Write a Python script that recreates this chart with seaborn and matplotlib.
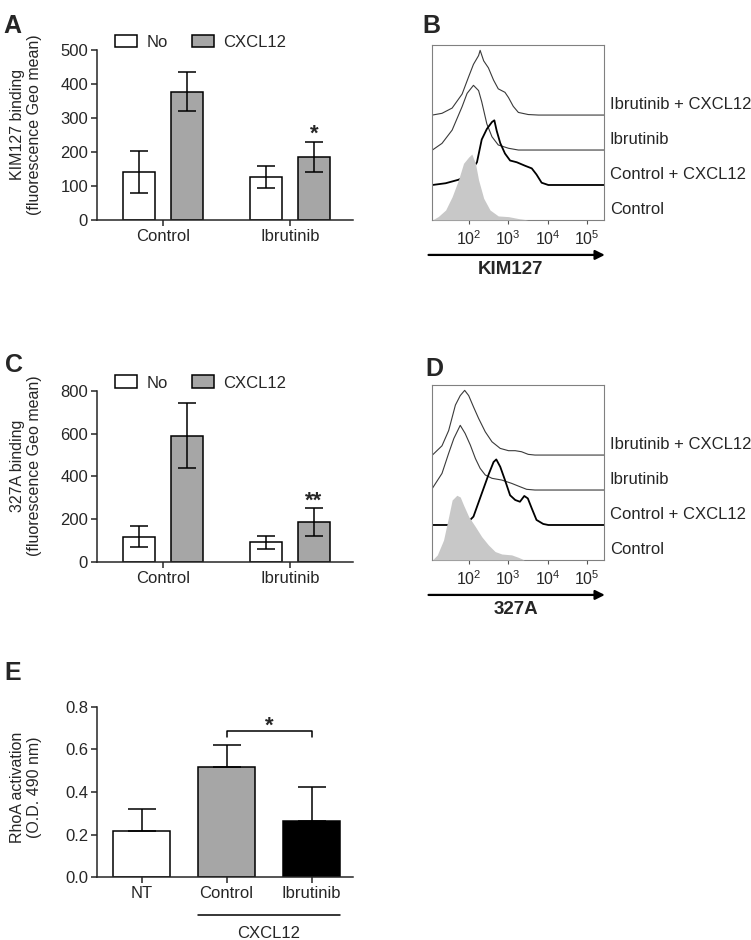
import numpy as np
import pandas as pd
import seaborn as sns
from matplotlib import pyplot as plt
from matplotlib.ticker import LogLocator, NullFormatter, FixedLocator, FixedFormatter

sns.set_style('ticks')
plt.rcParams['font.family'] = ['Liberation Sans', 'DejaVu Sans']
plt.rcParams['mathtext.default'] = 'regular'

# bar panels (mean +/- sem)
groups = ['Control', 'Ibrutinib']
treatments = ['No', 'CXCL12']
kim_no = [140, 127]
kim_no_sem = [62, 32]
kim_cx = [377, 185]
kim_cx_sem = [57, 45]
a327_no = [118, 92]
a327_no_sem = [49, 29]
a327_cx = [590, 186]
a327_cx_sem = [151, 66]

rho_groups = ['NT', 'Control', 'Ibrutinib']
rho_mean = [0.219, 0.518, 0.264]
rho_sem = [0.100, 0.102, 0.160]

# flow histograms (fluorescence, % of max), staggered
hist_names = ['Ibrutinib + CXCL12', 'Ibrutinib', 'Control + CXCL12', 'Control']
hist_offsets = [60, 40, 20, 0]

b_ibrcx_x = [12, 21, 38, 68, 100, 132, 178, 195, 240, 316, 427, 562, 832, 1023, 1349, 1820, 3236, 5888, 270000]
b_ibrcx_y = [0, 1, 4, 12, 22, 29, 34, 37, 31, 27, 20, 15, 13, 10, 5, 1.5, 0.3, 0, 0]
b_ibr_x = [12, 21, 38, 68, 91, 132, 178, 214, 288, 389, 562, 1023, 1820, 270000]
b_ibr_y = [0, 3.8, 11.4, 24.8, 32.4, 37, 34, 27.6, 15, 7.6, 2.9, 1, 0, 0]
b_ctlcx_x = [12, 26, 55, 100, 162, 214, 288, 389, 447, 513, 631, 832, 1122, 1660, 2692, 3981, 5248, 7079, 10471, 270000]
b_ctlcx_y = [0, 1, 3, 6, 13, 26, 32, 36, 37, 31, 24, 18, 14, 13, 11, 9.5, 6, 1.3, 0, 0]
b_ctl_x = [12, 17, 26, 38, 55, 74, 100, 120, 148, 178, 240, 347, 562, 1023, 1820, 3236]
b_ctl_y = [0, 2, 5.7, 13.3, 22.9, 32.4, 36, 37.7, 32.4, 22.9, 12.4, 5.7, 2.3, 1.9, 0.8, 0]

d_ibrcx_x = [12, 21, 31, 46, 61, 79, 100, 132, 178, 263, 389, 631, 1023, 1514, 2188, 3236, 4786, 270000]
d_ibrcx_y = [0, 5.3, 14, 28.6, 34, 37, 34, 27.6, 21, 13.3, 7.6, 3.8, 2.5, 2.5, 1.9, 0.4, 0, 0]
d_ibr_x = [12, 21, 31, 42, 61, 81, 110, 148, 195, 263, 389, 692, 1230, 1995, 2951, 4786, 270000]
d_ibr_y = [1, 9.5, 21, 29.5, 37, 32.4, 25.7, 18, 12.4, 8.6, 6.7, 5.7, 3.8, 1.9, 0.4, 0, 0]
d_ctlcx_x = [12, 81, 132, 214, 316, 427, 501, 631, 832, 1122, 1514, 1995, 2570, 3162, 3981, 5248, 7762, 10471, 270000]
d_ctlcx_y = [0, 0, 4.8, 18, 28.6, 36, 37.5, 33.3, 25.7, 17, 14.3, 13.3, 16.6, 15.2, 9.5, 2.9, 0.6, 0, 0]
d_ctl_x = [12, 16, 23, 31, 38, 50, 61, 74, 100, 148, 214, 316, 468, 692, 1230, 1820, 2570]
d_ctl_y = [0, 2.9, 11.4, 24.8, 34.3, 37, 36, 31.4, 24.8, 19, 13.3, 8.6, 4.8, 3.4, 2.9, 1.5, 0]

GRAY = '#a6a6a6'
LW = 1.1
TICK_FS = 12

fig = plt.figure(figsize=(7.51, 9.40), dpi=100)


def binding_panel(ax, no, no_sem, cx, cx_sem, ymax, step, ylabel, star):
    df = pd.DataFrame({'group': groups * 2,
                       'treat': [treatments[0]] * 2 + [treatments[1]] * 2,
                       'val': no + cx})
    sns.barplot(data=df, x='group', y='val', hue='treat',
                palette={'No': 'white', 'CXCL12': GRAY}, saturation=1,
                edgecolor='black', linewidth=LW, width=0.756, gap=0.333,
                errorbar=None, ax=ax)
    for cont, errs in zip(ax.containers, [no_sem, cx_sem]):
        for bar, e in zip(cont, errs):
            ax.errorbar(bar.get_x() + bar.get_width() / 2, bar.get_height(), yerr=e,
                        color='black', lw=LW, capsize=6.5, capthick=LW, zorder=5)
    last = ax.containers[1][1]
    top = last.get_height() + cx_sem[1]
    ax.text(last.get_x() + last.get_width() / 2, top + ymax * 0.042, star,
            ha='center', va='center', fontsize=16, fontweight='bold')
    ax.set_xlim(-0.52, 1.496)
    ax.set_ylim(0, ymax)
    ax.set_yticks(np.arange(0, ymax + 1, step))
    ax.set_xlabel('')
    ax.set_ylabel(ylabel, fontsize=11.5, linespacing=1.15)
    ax.yaxis.set_label_coords(-0.215, 0.56)
    ax.tick_params(length=4.5, width=LW, labelsize=TICK_FS, pad=2)
    sns.despine(ax=ax)
    for s in ['left', 'bottom']:
        ax.spines[s].set_linewidth(LW)
    sns.move_legend(ax, 'center left', bbox_to_anchor=(0.072, 1.045), ncol=2,
                    frameon=False, title=None, handlelength=1.3, handleheight=0.8,
                    handletextpad=0.55, columnspacing=1.45, borderpad=0,
                    borderaxespad=0, fontsize=12)


def hist_panel(ax, curves, ctl_x, ctl_y, marker, marker_x):
    styles = [('#3a3a3a', 0.8), ('#3a3a3a', 0.8), ('black', 1.3)]
    for (cx, cy), off, (col, lw) in zip(curves, hist_offsets, styles):
        sns.lineplot(x=cx, y=np.array(cy) + off, color=col, lw=lw,
                     estimator=None, sort=False, ax=ax, zorder=2)
    ax.fill_between(ctl_x, ctl_y, color='#c8c8c8', lw=0, zorder=3)
    ax.set_xscale('log')
    ax.set_xlim(11.7, 2.7e5)
    ax.set_ylim(0, 100)
    ax.set_yticks([])
    ax.xaxis.set_major_locator(FixedLocator([1e2, 1e3, 1e4, 1e5]))
    ax.xaxis.set_major_formatter(FixedFormatter(['$10^{2}$', '$10^{3}$', '$10^{4}$', '$10^{5}$']))
    ax.xaxis.set_minor_locator(LogLocator(base=10, subs=np.arange(2, 10)))
    ax.xaxis.set_minor_formatter(NullFormatter())
    ax.tick_params(axis='x', which='major', length=3, width=0.8, color='#555555',
                   labelsize=11.5, pad=4)
    ax.tick_params(axis='x', which='minor', length=1.8, width=0.6, color='#555555')
    for s in ax.spines.values():
        s.set_color('#808080')
        s.set_linewidth(0.8)
    ax.set_xlabel('')
    ax.set_ylabel('')
    for name, off in zip(hist_names, hist_offsets):
        ax.text(1.035, off + 6, name, transform=ax.get_yaxis_transform(),
                ha='left', va='center', fontsize=12)
    ax.annotate('', xy=(1.005, -0.2), xytext=(-0.02, -0.2), xycoords='axes fraction',
                arrowprops=dict(arrowstyle='-|>', color='black', lw=1.6,
                                mutation_scale=14, shrinkA=0, shrinkB=0),
                annotation_clip=False)
    ax.text(marker_x, -0.285, marker, transform=ax.transAxes, ha='center', va='center',
            fontsize=13.5, fontweight='bold')


# A
axA = fig.add_axes([0.1292, 0.766, 0.3409, 0.1809])
binding_panel(axA, kim_no, kim_no_sem, kim_cx, kim_cx_sem, 500, 100,
              'KIM127 binding\n(fluorescence Geo mean)', '*')

# C
axC = fig.add_axes([0.1292, 0.4021, 0.3409, 0.1822])
binding_panel(axC, a327_no, a327_no_sem, a327_cx, a327_cx_sem, 800, 200,
              '327A binding\n(fluorescence Geo mean)', '**')

# B
axB = fig.add_axes([0.5752, 0.766, 0.229, 0.186])
hist_panel(axB, [(b_ibrcx_x, b_ibrcx_y), (b_ibr_x, b_ibr_y), (b_ctlcx_x, b_ctlcx_y)],
           b_ctl_x, b_ctl_y, 'KIM127', 0.455)

# D
axD = fig.add_axes([0.5752, 0.4043, 0.229, 0.186])
hist_panel(axD, [(d_ibrcx_x, d_ibrcx_y), (d_ibr_x, d_ibr_y), (d_ctlcx_x, d_ctlcx_y)],
           d_ctl_x, d_ctl_y, '327A', 0.49)

# E
axE = fig.add_axes([0.1292, 0.0667, 0.3409, 0.1815])
dfE = pd.DataFrame({'cond': rho_groups, 'val': rho_mean})
sns.barplot(data=dfE, x='cond', y='val', hue='cond', palette=['white', GRAY, 'black'],
            saturation=1, edgecolor='black', linewidth=LW, width=0.67,
            errorbar=None, legend=False, ax=axE)
for bar, e in zip(axE.patches, rho_sem):
    axE.errorbar(bar.get_x() + bar.get_width() / 2, bar.get_height(), yerr=[[0], [e]],
                 color='black', lw=LW, capsize=10, capthick=LW, zorder=1)
axE.plot([1, 1, 2, 2], [0.66, 0.687, 0.687, 0.66], color='black', lw=LW)
axE.text(1.5, 0.707, '*', ha='center', va='center', fontsize=16, fontweight='bold')
axE.plot([0.665, 2.335], [-0.221, -0.221], color='black', lw=LW,
         transform=axE.get_xaxis_transform(), clip_on=False)
axE.text(1.5, -0.33, 'CXCL12', transform=axE.get_xaxis_transform(),
         ha='center', va='center', fontsize=TICK_FS)
axE.set_xlim(-0.524, 2.488)
axE.set_ylim(0, 0.8)
axE.set_yticks([0, 0.2, 0.4, 0.6, 0.8])
axE.set_yticklabels(['0.0', '0.2', '0.4', '0.6', '0.8'])
axE.set_xlabel('')
axE.set_ylabel('RhoA activation\n(O.D. 490 nm)', fontsize=11.5, linespacing=1.15)
axE.yaxis.set_label_coords(-0.215, 0.53)
axE.tick_params(length=4.5, width=LW, labelsize=TICK_FS, pad=2)
sns.despine(ax=axE)
for s in ['left', 'bottom']:
    axE.spines[s].set_linewidth(LW)

# panel letters
for letter, x, y in [('A', 0.004, 0.985), ('B', 0.563, 0.985), ('C', 0.006, 0.625),
                     ('D', 0.566, 0.62), ('E', 0.006, 0.297)]:
    fig.text(x, y, letter, fontsize=18, fontweight='bold', va='top', ha='left')

fig.savefig('out.png', dpi=100)
